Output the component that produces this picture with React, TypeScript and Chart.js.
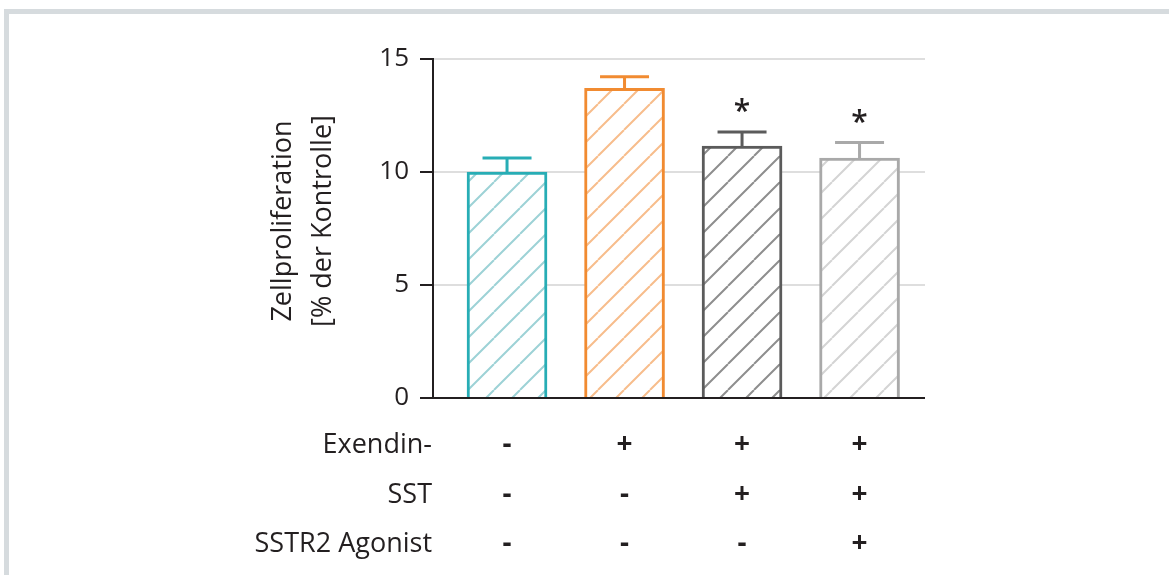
import React, { useEffect, useRef } from 'react';
import { Chart, registerables } from 'chart.js';

Chart.register(...registerables);

// ---- data ----
const categories = ['Kontrolle', 'Exendin-', 'Exendin- + SST', 'Exendin- + SST + SSTR2 Agonist'];
const positions = [1, 2, 3, 4];
const means = [10.0, 13.7, 11.15, 10.62];
const errorTops = [10.62, 14.22, 11.77, 11.3];
const significant = [false, false, true, true];
const borderColors = ['#27adb5', '#f18b31', '#5b5b5b', '#a9a9a9'];
const hatchColors = ['#9dd2d6', '#f7bd8c', '#8e8e8e', '#d4d4d4'];
const yTickValues = [0, 5, 10, 15];
const rowLabels = ['Exendin-', 'SST', 'SSTR2 Agonist'];
const exendinRow = ['-', '+', '+', '+'];
const sstRow = ['-', '-', '+', '+'];
const agonistRow = ['-', '-', '-', '+'];
const yTitle = ['Zellproliferation', '[% der Kontrolle]'];

const FONT = '"Open Sans", sans-serif';
const TEXT = '#231f20';

function makeHatch(color: string): CanvasPattern | string {
  const s = 26;
  const c = document.createElement('canvas');
  c.width = s;
  c.height = s;
  const g = c.getContext('2d');
  if (!g) return '#fff';
  g.fillStyle = '#ffffff';
  g.fillRect(0, 0, s, s);
  g.strokeStyle = color;
  g.lineWidth = 2;
  g.beginPath();
  for (const o of [-s, 0, s]) {
    g.moveTo(o, s);
    g.lineTo(o + s, 0);
  }
  g.stroke();
  const p = g.createPattern(c, 'repeat');
  return p || '#fff';
}

const decorPlugin = {
  id: 'decor',
  beforeDraw(chart: any) {
    const ctx = chart.ctx;
    ctx.save();
    ctx.fillStyle = '#ffffff';
    ctx.fillRect(0, 0, chart.width, chart.height);
    ctx.fillStyle = '#d6dbde';
    ctx.fillRect(4, 9, chart.width - 4, 5);
    ctx.fillRect(4, 9, 5, chart.height - 9);
    ctx.restore();
  },
  afterDatasetsDraw(chart: any) {
    const ctx = chart.ctx;
    const xs = chart.scales.x;
    const ys = chart.scales.y;
    const area = chart.chartArea;
    ctx.save();
    // x axis line
    ctx.strokeStyle = TEXT;
    ctx.lineWidth = 2;
    ctx.beginPath();
    ctx.moveTo(area.left - 13, ys.getPixelForValue(0));
    ctx.lineTo(area.right, ys.getPixelForValue(0));
    ctx.stroke();

    // error bars + asterisks
    positions.forEach((p, i) => {
      const x = xs.getPixelForValue(p);
      const yTop = ys.getPixelForValue(means[i]);
      const yErr = ys.getPixelForValue(errorTops[i]);
      ctx.strokeStyle = borderColors[i];
      ctx.lineWidth = 3;
      ctx.beginPath();
      ctx.moveTo(x, yTop);
      ctx.lineTo(x, yErr);
      ctx.moveTo(x - 24.5, yErr);
      ctx.lineTo(x + 24.5, yErr);
      ctx.stroke();
      if (significant[i]) {
        ctx.fillStyle = TEXT;
        ctx.font = `600 30px ${FONT}`;
        ctx.textAlign = 'center';
        ctx.textBaseline = 'alphabetic';
        ctx.fillText('*', x, yErr - 28 + 17);
      }
    });

    // y title
    ctx.fillStyle = TEXT;
    ctx.font = `500 27px ${FONT}`;
    ctx.textAlign = 'center';
    ctx.textBaseline = 'middle';
    const titleX = [283, 323];
    yTitle.forEach((t, k) => {
      ctx.save();
      ctx.translate(titleX[k], 221);
      ctx.rotate(-Math.PI / 2);
      ctx.fillText(t, 0, 0);
      ctx.restore();
    });

    // treatment table
    const rows = [exendinRow, sstRow, agonistRow];
    const baselines = [453, 503, 552];
    ctx.textBaseline = 'alphabetic';
    rows.forEach((row, r) => {
      ctx.font = `500 27px ${FONT}`;
      ctx.textAlign = 'right';
      ctx.fillText(rowLabels[r], 432, baselines[r]);
      ctx.textAlign = 'center';
      ctx.font = `700 28px ${FONT}`;
      row.forEach((sign, i) => {
        ctx.fillText(sign, xs.getPixelForValue(positions[i]), baselines[r]);
      });
    });
    ctx.restore();
  },
};

export default function App() {
  const ref = useRef<HTMLCanvasElement | null>(null);

  useEffect(() => {
    if (!ref.current) return;
    const patterns = hatchColors.map((c) => makeHatch(c));
    const chart = new Chart(ref.current, {
      type: 'bar',
      data: {
        labels: categories,
        datasets: [
          {
            label: 'Zellproliferation',
            data: positions.map((x, i) => ({ x, y: means[i] })) as any,
            backgroundColor: patterns as any,
            borderColor: borderColors,
            borderWidth: 3,
            borderSkipped: 'bottom',
            barThickness: 80,
          },
        ],
      },
      options: {
        animation: false,
        responsive: false,
        devicePixelRatio: 1,
        layout: { padding: { top: 59, right: 244, bottom: 177, left: 0 } },
        plugins: { legend: { display: false }, tooltip: { enabled: false } },
        scales: {
          x: {
            type: 'linear',
            min: 0.37,
            max: 4.557,
            offset: false,
            display: false,
          },
          y: {
            min: 0,
            max: 15,
            afterFit: (scale: any) => {
              scale.width = 433;
            },
            afterBuildTicks: (scale: any) => {
              scale.ticks = yTickValues.map((v) => ({ value: v }));
            },
            ticks: {
              font: { family: FONT, size: 26, weight: '500' },
              color: TEXT,
              padding: 11,
            },
            grid: {
              drawOnChartArea: true,
              drawTicks: true,
              tickLength: 13,
              tickColor: TEXT,
              tickWidth: 2,
              lineWidth: 2,
              color: (c: any) => (c.tick && c.tick.value === 0 ? 'rgba(0,0,0,0)' : '#dedede'),
            },
            border: { display: true, color: TEXT, width: 2 },
          },
        },
      },
      plugins: [decorPlugin],
    });
    return () => chart.destroy();
  }, []);

  return (
    <div style={{ position: 'fixed', left: 0, top: 0, width: 1169, height: 575, background: '#fff' }}>
      <canvas ref={ref} width={1169} height={575} style={{ display: 'block' }} />
    </div>
  );
}
